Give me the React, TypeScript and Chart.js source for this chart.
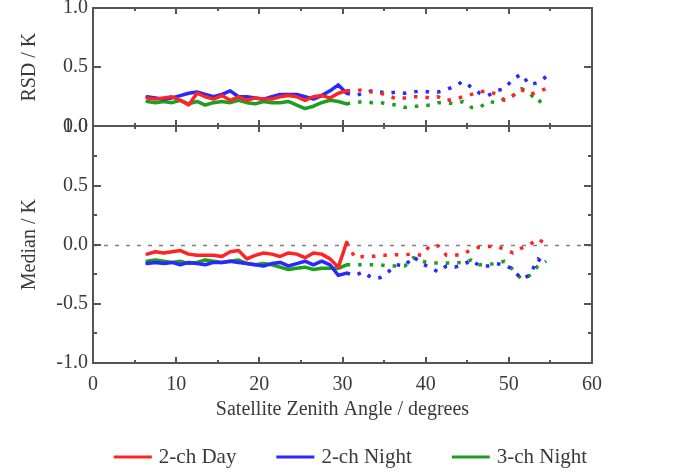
import { useEffect, useRef } from 'react';
import { Chart, registerables } from 'chart.js';

Chart.register(...registerables);

// ---------------- data ----------------
const ANGLES = [
  6.5, 7.5, 8.5, 9.5, 10.5, 11.5, 12.5, 13.5, 14.5, 15.5, 16.5, 17.5, 18.5, 19.5, 20.5, 21.5,
  22.5, 23.5, 24.5, 25.5, 26.5, 27.5, 28.5, 29.5, 30.5, 31.5, 32.5, 33.5, 34.5, 35.5, 36.5, 37.5,
  38.5, 39.5, 40.5, 41.5, 42.5, 43.5, 44.5, 45.5, 46.5, 47.5, 48.5, 49.5, 50.5, 51.5, 52.5, 53.5, 54.5,
];

const RSD_2CH_DAY = [
  0.24, 0.23, 0.24, 0.25, 0.22, 0.18, 0.28, 0.25, 0.23, 0.26, 0.22, 0.25, 0.22, 0.24, 0.23, 0.23,
  0.25, 0.26, 0.25, 0.22, 0.25, 0.26, 0.24, 0.28, 0.30, 0.30, 0.31, 0.29, 0.28, 0.26, 0.23, 0.24,
  0.25, 0.25, 0.24, 0.25, 0.22, 0.23, 0.25, 0.27, 0.29, 0.30, 0.27, 0.22, 0.26, 0.31, 0.27, 0.29, 0.32,
];
const RSD_2CH_NIGHT = [
  0.25, 0.24, 0.23, 0.24, 0.26, 0.28, 0.29, 0.27, 0.25, 0.27, 0.30, 0.25, 0.25, 0.24, 0.23, 0.25,
  0.27, 0.27, 0.27, 0.25, 0.23, 0.26, 0.30, 0.35, 0.28, 0.26, 0.28, 0.30, 0.29, 0.28, 0.29, 0.28,
  0.29, 0.30, 0.29, 0.29, 0.31, 0.34, 0.38, 0.33, 0.28, 0.26, 0.30, 0.32, 0.40, 0.44, 0.35, 0.37, 0.42,
];
const RSD_3CH_NIGHT = [
  0.21, 0.20, 0.21, 0.20, 0.22, 0.19, 0.21, 0.18, 0.20, 0.21, 0.20, 0.22, 0.20, 0.19, 0.21, 0.20,
  0.20, 0.21, 0.18, 0.15, 0.17, 0.20, 0.22, 0.21, 0.19, 0.20, 0.21, 0.20, 0.20, 0.19, 0.18, 0.16,
  0.17, 0.17, 0.18, 0.20, 0.20, 0.19, 0.21, 0.16, 0.16, 0.21, 0.20, 0.23, 0.26, 0.32, 0.28, 0.20, 0.25,
];

const MEDIAN_2CH_DAY = [
  -0.08, -0.06, -0.07, -0.06, -0.05, -0.08, -0.09, -0.09, -0.09, -0.1, -0.06, -0.05, -0.12, -0.09, -0.07, -0.08,
  -0.1, -0.07, -0.08, -0.11, -0.07, -0.08, -0.12, -0.19, 0.02, -0.11, -0.1, -0.1, -0.09, -0.09, -0.085, -0.085,
  -0.08, -0.09, -0.01, -0.01, -0.09, -0.09, -0.08, -0.04, -0.02, -0.015, -0.015, -0.04, -0.07, -0.03, 0.0, 0.05, 0.0,
];
const MEDIAN_2CH_NIGHT = [
  -0.16, -0.15, -0.16, -0.15, -0.17, -0.15, -0.16, -0.17, -0.15, -0.15, -0.14, -0.15, -0.16, -0.17, -0.18, -0.16,
  -0.15, -0.18, -0.16, -0.14, -0.17, -0.14, -0.17, -0.26, -0.24, -0.26, -0.23, -0.28, -0.28, -0.23, -0.17, -0.18,
  -0.1, -0.16, -0.19, -0.23, -0.18, -0.19, -0.17, -0.13, -0.18, -0.18, -0.16, -0.17, -0.21, -0.29, -0.26, -0.12, -0.18,
];
const MEDIAN_3CH_NIGHT = [
  -0.14, -0.13, -0.14, -0.15, -0.14, -0.16, -0.15, -0.13, -0.14, -0.15, -0.14, -0.13, -0.16, -0.17, -0.16, -0.17,
  -0.19, -0.21, -0.2, -0.19, -0.21, -0.2, -0.2, -0.2, -0.17, -0.17, -0.17, -0.17, -0.17, -0.18, -0.18, -0.18,
  -0.11, -0.14, -0.155, -0.155, -0.155, -0.155, -0.15, -0.13, -0.17, -0.17, -0.155, -0.14, -0.21, -0.29, -0.26, -0.18, -0.14,
];

const SERIES_LABELS = ['2-ch Day', '2-ch Night', '3-ch Night'];
const SERIES_COLORS = ['#ff2424', '#2828ff', '#1e9e1e'];

const X_MAJOR_TICKS = [0, 10, 20, 30, 40, 50, 60];
const X_MINOR_TICKS = [5, 15, 25, 35, 45, 55];
const RSD_TICKS = [0, 0.5, 1.0];
const MEDIAN_TICKS = [-1.0, -0.5, 0.0, 0.5, 1.0];
const MEDIAN_MINOR_TICKS = [-0.75, -0.25, 0.25, 0.75];

const X_TITLE = 'Satellite Zenith Angle / degrees';
const RSD_TITLE = 'RSD / K';
const MEDIAN_TITLE = 'Median / K';
const SOLID_LIMIT = 30.5;

// ---------------- styling ----------------
const FONT_FAMILY = '"Liberation Serif", "Times New Roman", Times, serif';
const TEXT_COLOR = '#3a3a3a';
const FRAME_COLOR = '#555555';

const toPoints = (vals: number[]) => ANGLES.map((a, i) => ({ x: a, y: vals[i] }));

const makeDataset = (label: string, color: string, vals: number[], axis: string, showInLegend: boolean) => ({
  label,
  data: toPoints(vals),
  yAxisID: axis,
  borderColor: color,
  backgroundColor: color,
  borderWidth: 3.5,
  pointRadius: 0,
  tension: 0,
  fill: false,
  borderJoinStyle: 'round' as const,
  showInLegend,
  segment: {
    borderDash: (ctx: any) => (ctx.p1.parsed.x > SOLID_LIMIT ? [3.5, 8] : undefined),
    borderCapStyle: (ctx: any) => (ctx.p1.parsed.x > SOLID_LIMIT ? 'butt' : 'round'),
  },
});

const zeroLinePlugin = {
  id: 'zeroLine',
  beforeDatasetsDraw(chart: any) {
    const { ctx, chartArea, scales } = chart;
    const y = Math.round(scales.yBot.getPixelForValue(0)) + 0.5;
    ctx.save();
    ctx.strokeStyle = '#808080';
    ctx.lineWidth = 1.5;
    ctx.setLineDash([4, 7]);
    ctx.beginPath();
    ctx.moveTo(chartArea.left, y);
    ctx.lineTo(chartArea.right, y);
    ctx.stroke();
    ctx.restore();
  },
};

const framePlugin = {
  id: 'frames',
  afterDatasetsDraw(chart: any) {
    const { ctx, chartArea, scales } = chart;
    const xs = scales.x;
    const panels: [string, number[], number[]][] = [
      ['yTop', RSD_TICKS, []],
      ['yBot', MEDIAN_TICKS, MEDIAN_MINOR_TICKS],
    ];
    ctx.save();
    ctx.strokeStyle = FRAME_COLOR;
    ctx.lineWidth = 2;
    const line = (x1: number, y1: number, x2: number, y2: number) => {
      ctx.beginPath();
      ctx.moveTo(x1, y1);
      ctx.lineTo(x2, y2);
      ctx.stroke();
    };
    for (const [id, majors, minors] of panels) {
      const ys = scales[id];
      const top = Math.round(ys.top);
      const bottom = Math.round(ys.bottom);
      const left = Math.round(chartArea.left);
      const right = Math.round(chartArea.right);
      ctx.strokeRect(left, top, right - left, bottom - top);
      for (const v of X_MAJOR_TICKS) {
        const px = Math.round(xs.getPixelForValue(v));
        line(px, bottom, px, bottom - 6);
        line(px, top, px, top + 6);
      }
      for (const v of X_MINOR_TICKS) {
        const px = Math.round(xs.getPixelForValue(v));
        line(px, bottom, px, bottom - 3);
        line(px, top, px, top + 3);
      }
      for (const v of majors) {
        const py = Math.round(ys.getPixelForValue(v));
        line(left, py, left + 8, py);
        line(right, py, right - 8, py);
      }
      for (const v of minors) {
        const py = Math.round(ys.getPixelForValue(v));
        line(left, py, left + 4, py);
        line(right, py, right - 4, py);
      }
    }
    ctx.restore();
  },
};

const legendPlugin = {
  id: 'customLegend',
  afterDraw(chart: any) {
    const { ctx, chartArea } = chart;
    const items = chart.data.datasets.filter((d: any) => d.showInLegend);
    const lineLen = 38;
    const textGap = 7;
    const itemGap = 40;
    const legendY = 457;
    ctx.save();
    ctx.font = `21px ${FONT_FAMILY}`;
    const widths = items.map((d: any) => lineLen + textGap + ctx.measureText(d.label).width);
    const total = widths.reduce((a: number, b: number) => a + b, 0) + itemGap * (items.length - 1);
    let x = (chartArea.left + chartArea.right) / 2 + 8 - total / 2;
    items.forEach((d: any, i: number) => {
      ctx.strokeStyle = d.borderColor;
      ctx.lineWidth = 3;
      ctx.beginPath();
      ctx.moveTo(x, legendY);
      ctx.lineTo(x + lineLen, legendY);
      ctx.stroke();
      ctx.fillStyle = TEXT_COLOR;
      ctx.textAlign = 'left';
      ctx.textBaseline = 'middle';
      ctx.fillText(d.label, x + lineLen + textGap, legendY);
      x += widths[i] + itemGap;
    });
    ctx.restore();
  },
};

const tickFont = { family: FONT_FAMILY, size: 20 };
const titleFont = { family: FONT_FAMILY, size: 20 };

const zeroPadding = (s: any) => {
  s.paddingTop = 0;
  s.paddingBottom = 0;
  s.paddingLeft = 0;
  s.paddingRight = 0;
};

export default function App() {
  const canvasRef = useRef<HTMLCanvasElement | null>(null);

  useEffect(() => {
    if (!canvasRef.current) return;
    const chart = new Chart(canvasRef.current, {
      type: 'line',
      data: {
        datasets: [
          makeDataset(SERIES_LABELS[0], SERIES_COLORS[0], RSD_2CH_DAY, 'yTop', true),
          makeDataset(SERIES_LABELS[1], SERIES_COLORS[1], RSD_2CH_NIGHT, 'yTop', true),
          makeDataset(SERIES_LABELS[2], SERIES_COLORS[2], RSD_3CH_NIGHT, 'yTop', true),
          makeDataset(SERIES_LABELS[0], SERIES_COLORS[0], MEDIAN_2CH_DAY, 'yBot', false),
          makeDataset(SERIES_LABELS[1], SERIES_COLORS[1], MEDIAN_2CH_NIGHT, 'yBot', false),
          makeDataset(SERIES_LABELS[2], SERIES_COLORS[2], MEDIAN_3CH_NIGHT, 'yBot', false),
        ] as any,
      },
      options: {
        animation: false,
        responsive: false,
        devicePixelRatio: 1,
        layout: { padding: { left: 0, right: 93, top: 8, bottom: 49 } },
        plugins: {
          legend: { display: false },
          tooltip: { enabled: false },
        },
        scales: {
          x: {
            type: 'linear',
            position: 'bottom',
            min: 0,
            max: 60,
            grid: { display: false, drawTicks: false },
            border: { display: false },
            ticks: { stepSize: 10, font: tickFont, color: TEXT_COLOR, padding: 10, maxRotation: 0 },
            title: {
              display: true,
              text: X_TITLE,
              font: titleFont,
              color: TEXT_COLOR,
              padding: { top: 0, bottom: 1 },
            },
            afterFit: (s: any) => {
              s.height = 60;
              zeroPadding(s);
            },
          },
          yBot: {
            type: 'linear',
            position: 'left',
            stack: 'panels',
            stackWeight: 2,
            min: -1,
            max: 1,
            grid: { display: false, drawTicks: false },
            border: { display: false },
            afterBuildTicks: (s: any) => {
              s.ticks = MEDIAN_TICKS.map((v) => ({ value: v }));
            },
            ticks: {
              font: tickFont,
              color: TEXT_COLOR,
              padding: 5,
              callback: (v: any) => Number(v).toFixed(1),
            },
            title: {
              display: true,
              text: MEDIAN_TITLE,
              font: titleFont,
              color: TEXT_COLOR,
              padding: { top: 18, bottom: 0 },
            },
            afterFit: (s: any) => {
              s.width = 93;
              zeroPadding(s);
            },
          },
          yTop: {
            type: 'linear',
            position: 'left',
            stack: 'panels',
            stackWeight: 1,
            min: 0,
            max: 1,
            grid: { display: false, drawTicks: false },
            border: { display: false },
            afterBuildTicks: (s: any) => {
              s.ticks = RSD_TICKS.map((v) => ({ value: v }));
            },
            ticks: {
              font: tickFont,
              color: TEXT_COLOR,
              padding: 5,
              callback: (v: any) => Number(v).toFixed(1),
            },
            title: {
              display: true,
              text: RSD_TITLE,
              font: titleFont,
              color: TEXT_COLOR,
              padding: { top: 18, bottom: 0 },
            },
            afterFit: (s: any) => {
              s.width = 93;
              zeroPadding(s);
            },
          },
        },
      } as any,
      plugins: [zeroLinePlugin, framePlugin, legendPlugin],
    });
    return () => chart.destroy();
  }, []);

  return (
    <div style={{ position: 'fixed', left: 0, top: 0, width: 685, height: 472, background: '#ffffff' }}>
      <canvas ref={canvasRef} width={685} height={472} style={{ width: 685, height: 472, display: 'block' }} />
    </div>
  );
}
